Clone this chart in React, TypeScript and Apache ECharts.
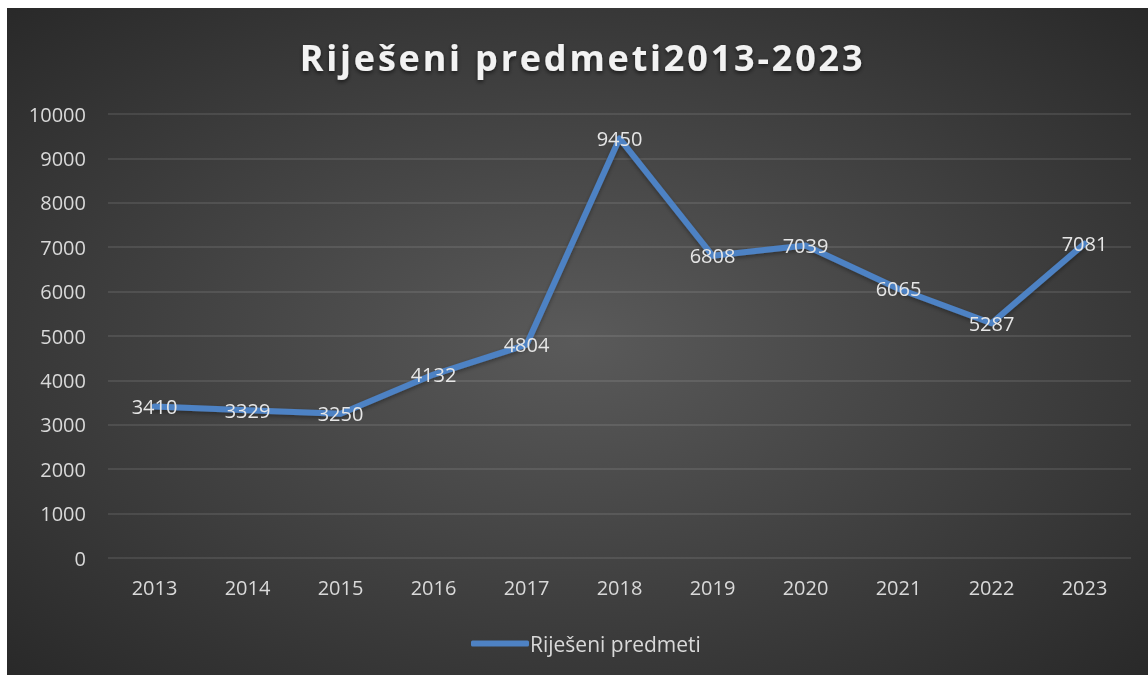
import React, { useEffect, useRef } from "react";
import * as echarts from "echarts";

const years = ["2013", "2014", "2015", "2016", "2017", "2018", "2019", "2020", "2021", "2022", "2023"];
const solved = [3410, 3329, 3250, 4132, 4804, 9450, 6808, 7039, 6065, 5287, 7081];
const seriesName = "Riješeni predmeti";
const titleText = "Riješeni predmeti2013-2023";

export default function App() {
  const ref = useRef<HTMLDivElement>(null);
  useEffect(() => {
    if (!ref.current) return;
    const chart = echarts.init(ref.current, null, { renderer: "svg" });
    const font = "'Open Sans', 'Noto Sans', sans-serif";
    chart.setOption({
      animation: false,
      backgroundColor: {
        type: "radial",
        x: 0.5,
        y: 0.5,
        r: 0.75,
        colorStops: [
          { offset: 0, color: "#5a5a5a" },
          { offset: 1, color: "#262626" },
        ],
      },
      title: {
        text: titleText,
        left: "center",
        top: 26,
        textStyle: {
          color: "#f2f2f2",
          fontFamily: font,
          fontSize: 36,
          fontWeight: "bold",
          textShadowColor: "rgba(0,0,0,0.6)",
          textShadowBlur: 4,
          textShadowOffsetY: 2,
        },
      },
      legend: {
        data: [seriesName],
        left: 459,
        top: 620,
        icon: "roundRect",
        itemWidth: 58,
        itemHeight: 6,
        itemGap: 10,
        textStyle: { color: "#d9d9d9", fontFamily: font, fontSize: 21, padding: [0, 0, 0, -4] },
      },
      grid: { left: 101, right: 17, top: 106, bottom: 117 },
      xAxis: {
        type: "category",
        data: years,
        boundaryGap: true,
        axisLine: { show: false },
        axisTick: { show: false },
        axisLabel: { color: "#d9d9d9", fontFamily: font, fontSize: 20, margin: 19 },
      },
      yAxis: {
        type: "value",
        min: 0,
        max: 10000,
        interval: 1000,
        axisLine: { show: false },
        axisTick: { show: false },
        axisLabel: {
          color: "#d9d9d9",
          fontFamily: font,
          fontSize: 20,
          margin: 22,
          formatter: (v: number) => String(v),
        },
        splitLine: { lineStyle: { color: "rgba(255,255,255,0.13)", width: 1.5 } },
      },
      series: [
        {
          name: seriesName,
          type: "line",
          data: solved,
          symbol: "circle",
          symbolSize: 0,
          showSymbol: true,
          lineStyle: {
            color: "#4e82c4",
            width: 6,
            cap: "round",
            join: "round",
            shadowColor: "rgba(0,0,0,0.35)",
            shadowBlur: 4,
            shadowOffsetY: 2,
          },
          itemStyle: { color: "#4e82c4" },
          label: {
            show: true,
            position: "inside",
            color: "#e6e6e6",
            fontFamily: font,
            fontSize: 20,
          },
        },
      ],
    });
    const texts = ref.current.querySelectorAll("text");
    texts.forEach((t) => {
      if (t.textContent === titleText) {
        t.setAttribute("letter-spacing", "2.8");
        t.setAttribute("dx", "5");
      }
    });
    return () => chart.dispose();
  }, []);
  return (
    <div
      ref={ref}
      style={{ position: "fixed", left: 7, top: 8, width: 1141, height: 667 }}
    />
  );
}
